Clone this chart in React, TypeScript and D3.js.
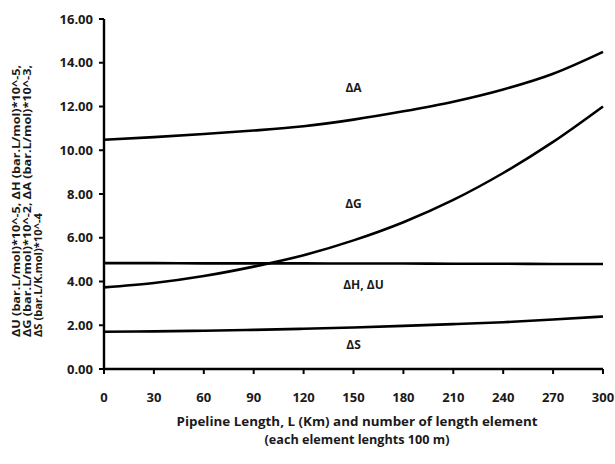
import React from "react";
import * as d3 from "d3";

const lengths = [0, 30, 60, 90, 120, 150, 180, 210, 240, 270, 300];
const dA = [10.48, 10.6, 10.74, 10.9, 11.1, 11.4, 11.78, 12.22, 12.78, 13.5, 14.5];
const dG = [3.73, 3.93, 4.25, 4.68, 5.2, 5.88, 6.71, 7.73, 8.96, 10.38, 12.0];
const dHU = [4.84, 4.84, 4.83, 4.83, 4.83, 4.82, 4.82, 4.81, 4.81, 4.8, 4.8];
const dS = [1.7, 1.72, 1.75, 1.79, 1.84, 1.9, 1.97, 2.05, 2.14, 2.26, 2.4];
const xTicks = [0, 30, 60, 90, 120, 150, 180, 210, 240, 270, 300];
const yTicks = [0, 2, 4, 6, 8, 10, 12, 14, 16];
const seriesLabels = [
  { text: "ΔA", x: 150, y: 12.66 },
  { text: "ΔG", x: 150, y: 7.38 },
  { text: "ΔH, ΔU", x: 156, y: 3.66 },
  { text: "ΔS", x: 150, y: 0.91 },
];
const yTitleLines = [
  "ΔU (bar.L/mol)*10^-5, ΔH (bar.L/mol)*10^-5,",
  "ΔG (bar.L/mol)*10^-2, ΔA (bar.L/mol)*10^-3,",
  "ΔS (bar.L/K.mol)*10^-4",
];
const yTitleLengths = [272, 272, 124];
const xTitleLines = [
  "Pipeline Length, L (Km) and number of length element",
  "(each element lenghts 100 m)",
];
const xTitleLengths = [361, 185];

const W = 615;
const H = 464;
const left = 104;
const right = 603;
const top = 19;
const bottom = 369;
const FONT = "'Open Sans', 'DejaVu Sans', sans-serif";

export default function App() {
  const x = d3.scaleLinear().domain([0, 300]).range([left, right]);
  const y = d3.scaleLinear().domain([0, 16]).range([bottom, top]);
  const line = (vals: number[]) =>
    d3
      .line<number>()
      .x((_, i) => x(lengths[i]))
      .y((d) => y(d))
      .curve(d3.curveMonotoneX)(vals) || "";
  const series = [dA, dG, dHU, dS];

  return (
    <svg
      width={W}
      height={H}
      style={{ position: "absolute", left: 0, top: 0, background: "#fff" }}
      fontFamily={FONT}
      fontWeight="bold"
    >
      <rect width={W} height={H} fill="#fff" />
      {series.map((s, i) => (
        <path key={i} d={line(s)} fill="none" stroke="#000" strokeWidth={2.6} />
      ))}
      <line x1={left} x2={left} y1={top} y2={bottom + 1} stroke="#000" strokeWidth={2.4} />
      <line x1={left - 1} x2={right} y1={bottom} y2={bottom} stroke="#000" strokeWidth={2.4} />
      {yTicks.map((t) => (
        <g key={"y" + t}>
          <line x1={left - 5} x2={left} y1={y(t)} y2={y(t)} stroke="#000" strokeWidth={2} />
          <text x={93} y={y(t)} dy="0.35em" textAnchor="end" fontSize={13} fill="#1a1a1a">
            {t.toFixed(2)}
          </text>
        </g>
      ))}
      {xTicks.map((t) => (
        <g key={"x" + t}>
          <line x1={x(t)} x2={x(t)} y1={bottom} y2={bottom + 5} stroke="#000" strokeWidth={2} />
          <text x={x(t)} y={397} dy="0.35em" textAnchor="middle" fontSize={13} fill="#1a1a1a">
            {t}
          </text>
        </g>
      ))}
      {seriesLabels.map((l) => (
        <text key={l.text} x={x(l.x)} y={y(l.y)} textAnchor="middle" fontSize={12} fill="#1a1a1a">
          {l.text}
        </text>
      ))}
      {xTitleLines.map((t, i) => (
        <text
          key={t}
          x={357}
          y={426 + i * 18}
          textAnchor="middle"
          fontSize={12.5}
          fill="#1a1a1a"
          textLength={xTitleLengths[i]}
          lengthAdjust="spacingAndGlyphs"
        >
          {t}
        </text>
      ))}
      {yTitleLines.map((t, i) => (
        <text
          key={t}
          transform={`translate(${19.5 + i * 11.3},337) rotate(-90)`}
          textAnchor="start"
          fontSize={11}
          fill="#1a1a1a"
          textLength={yTitleLengths[i]}
          lengthAdjust="spacingAndGlyphs"
        >
          {t}
        </text>
      ))}
    </svg>
  );
}
